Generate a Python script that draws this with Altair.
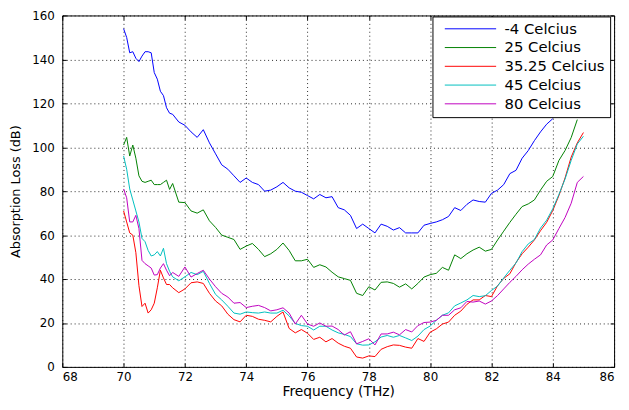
import altair as alt
import pandas as pd

# Frequency grid (THz): fine steps at the start, then 0.2 THz steps
freq_fine = [70.0, 70.1, 70.2, 70.3, 70.4, 70.5, 70.6, 70.7, 70.8, 70.9,
             71.0, 71.1, 71.2, 71.3, 71.4, 71.5, 71.6]
freq_coarse = [71.8,
               72.0, 72.2, 72.4, 72.6, 72.8,
               73.0, 73.2, 73.4, 73.6, 73.8,
               74.0, 74.2, 74.4, 74.6, 74.8,
               75.0, 75.2, 75.4, 75.6, 75.8,
               76.0, 76.2, 76.4, 76.6, 76.8,
               77.0, 77.2, 77.4, 77.6, 77.8,
               78.0, 78.2, 78.4, 78.6, 78.8,
               79.0, 79.2, 79.4, 79.6, 79.8,
               80.0, 80.2, 80.4, 80.6, 80.8,
               81.0, 81.2, 81.4, 81.6, 81.8,
               82.0, 82.2, 82.4, 82.6, 82.8,
               83.0, 83.2, 83.4, 83.6, 83.8,
               84.0, 84.2, 84.4, 84.6, 84.8,
               85.0]
freq = freq_fine + freq_coarse

series_names = ["-4 Celcius", "25 Celcius", "35.25 Celcius", "45 Celcius", "80 Celcius"]
series_colors = ["#0000FF", "#008000", "#FF0000", "#00BFBF", "#BF00BF"]

minus4 = [154, 150, 143, 143.5, 140.5, 139, 141.5, 143.5, 143.5, 143,
          134, 131, 125.5, 123.5, 118, 115.5, 115,
          111.5,
          110, 107, 104.5, 108, 102,
          97, 92, 90, 87, 84,
          86, 84, 83, 80, 80.5,
          82, 84, 81.5, 80, 79.5,
          78, 76.5, 78.5, 77, 77.5,
          72.5, 71.5, 69, 63, 65,
          63, 61, 65, 64, 62.3,
          63.4, 61, 61, 61, 64.5,
          65.3, 66, 67, 68.5, 72.5,
          71.2, 74, 76, 75.3, 75,
          79, 80.5, 83, 88, 89.5,
          95, 98.5, 103, 107, 110.5,
          113, None, None, None, None,
          None]

c25 = [101, 104.5, 96, 101, 95, 87, 84.5, 84, 84.5, 85,
       83, 83, 83, 84, 85, 80.8, 83.5,
       75,
       74.8, 71, 70, 71.5, 66.5,
       63.5, 60, 59, 58, 53.5,
       55, 56.2, 53.5, 50.2, 51.5,
       53.5, 56.4, 53, 48.3, 48.3,
       49, 45.3, 46.5, 45.5, 43.1,
       41, 40.2, 39.4, 33.5, 32.5,
       36.5, 35, 38.5, 38.7, 38,
       36.3, 37.8, 35.5, 38, 40.9,
       42, 42.6, 45.3, 44, 51,
       49.3, 51.5, 53.2, 54.5, 52.7,
       53.5, 57.8, 61.8, 65.8, 69.5,
       73, 74.2, 76, 80.5, 84.5,
       86.7, 94, 98.5, 104.4, 112.6,
       None]

c35 = [71, 66, 61, 60, 52, 37, 27.5, 29, 24.5, 26,
       29, 36, 44, 40.5, 37.5, 37.5, 36,
       33.8,
       35.5, 38.3, 38.7, 38, 33.5,
       30, 27.8, 24, 21.5, 20.5,
       23.5, 23, 21.7, 21.2, 20.5,
       23, 25, 17.5, 15.5, 17,
       15.3, 12.5, 13.5, 11.4, 12.9,
       10.8, 9.4, 8.5, 4.5, 4,
       5, 4.7, 8, 9.2, 10,
       9.8, 9, 8.5, 12.9, 11.6,
       15.8, 17.3, 19.5, 20.4, 23.5,
       25.4, 28.5, 30.5, 30.5, 32.5,
       32, 37, 40.3, 42.4, 47.5,
       51.5, 54.5, 57.8, 62, 65.8,
       71.2, 78, 86, 95.5, 102,
       106.7]

c45 = [96, 90, 81, 76, 71, 66, 58.5, 57, 53, 50.5,
       51, 52.5, 50.5, 54, 47, 43.5, 41,
       39.2,
       41, 43, 42, 43.5, 38,
       33, 30.5, 27.6, 24.5, 24,
       25, 24.7, 24.5, 25, 24.5,
       24.5, 25.8, 23.2, 19.8, 18.8,
       18.5, 16.8, 18.5, 18.5, 16.8,
       15.5, 14.8, 13.8, 10.5, 9.9,
       10, 11.4, 13.6, 14.3, 13.5,
       14.3, 13.2, 12, 14, 17,
       18.6, 21.2, 23.5, 24.6, 27.8,
       29.1, 30.5, 32.5, 32, 32.4,
       34.8, 36.8, 40.5, 44, 47.3,
       52.5, 56, 58, 63.2, 66.8,
       72, 78.5, 85.5, 94, 101.5,
       105]

c80 = [81, 77, 66, 66, 69, 63, 48.5, 47, 46, 45,
       41.8, 42, 45, 47, 44, 41.5, 43,
       41.2,
       45.5, 40.9, 42.5, 44, 40,
       36.5, 33.5, 31.8, 29, 29.3,
       27, 27.6, 28, 27, 25.5,
       26, 26.9, 24.5, 19.5, 23.5,
       19.5, 18.5, 20, 18.5, 18.6,
       17, 14.5, 16, 10.5, 11.6,
       12.8, 10, 15, 15, 15.8,
       14.6, 17, 15.9, 18.8, 20.2,
       20.4, 21.2, 23.5, 23.5, 26,
       26.9, 29.8, 29.5, 30, 28.6,
       30, 32.5, 35.5, 38.5, 41.2,
       44.2, 46.8, 49, 51, 55.5,
       57.8, 63, 68, 74.5, 84,
       86.7]

x_ticks = [68, 70, 72, 74, 76, 78, 80, 82, 84, 86]
y_ticks = [0, 20, 40, 60, 80, 100, 120, 140, 160]

all_series = [minus4, c25, c35, c45, c80]
for s in all_series:
    assert len(s) == len(freq), len(s)

rows = []
for k, (name, vals) in enumerate(zip(series_names, all_series)):
    for f, v in zip(freq, vals):
        if v is not None:
            rows.append({"Frequency": f, "Loss": v, "Series": name, "k": k})
df = pd.DataFrame(rows)

FONT = "DejaVu Sans"
xscale = alt.Scale(domain=[68, 86], nice=False, zero=False)
yscale = alt.Scale(domain=[0, 160], nice=False, zero=True)

main_x_axis = alt.Axis(values=x_ticks, grid=True, ticks=False, tickSize=0, domain=False,
                       labelFont=FONT, labelFontSize=12, labelColor="black", labelPadding=5,
                       title="Frequency (THz)", titleFont=FONT, titleFontSize=14,
                       titleFontWeight="normal", titleColor="black",
                       titleY=25, titleBaseline="middle")
main_y_axis = alt.Axis(values=y_ticks, grid=True, ticks=False, tickSize=0, domain=False,
                       labelFont=FONT, labelFontSize=12, labelColor="black", labelPadding=8,
                       title="Absorption Loss (dB)", titleFont=FONT, titleFontSize=13,
                       titleFontWeight="normal", titleColor="black", titlePadding=9)

lines = alt.Chart(df).mark_line(strokeWidth=1, interpolate="linear").encode(
    x=alt.X("Frequency:Q", scale=xscale, axis=main_x_axis),
    y=alt.Y("Loss:Q", scale=yscale, axis=main_y_axis),
    color=alt.Color("Series:N",
                    scale=alt.Scale(domain=series_names, range=series_colors),
                    sort=series_names,
                    legend=alt.Legend(title=None, orient="none", legendX=375, legendY=1,
                                      symbolType="M-5.2,0H5.2", symbolSize=100,
                                      symbolStrokeWidth=1, symbolFillColor="transparent",
                                      labelFont=FONT,
                                      labelFontSize=15, labelColor="black",
                                      strokeColor="black", fillColor="white",
                                      padding=5, rowPadding=3, symbolOffset=26,
                                      labelOffset=27, cornerRadius=0)),
    detail="k:N",
)


def tick_axis(orient):
    return alt.Axis(values=x_ticks if orient in ("top", "bottom") else y_ticks,
                    orient=orient, offset=-4, tickSize=4, ticks=True, tickColor="black",
                    labels=False, domain=False, grid=False, title=None)


ticks_bl = alt.Chart(df).mark_line(strokeOpacity=0).encode(
    x=alt.X("Frequency:Q", scale=xscale, axis=tick_axis("bottom")),
    y=alt.Y("Loss:Q", scale=yscale, axis=tick_axis("left")),
    detail="k:N",
)
ticks_tr = alt.Chart(df).mark_line(strokeOpacity=0).encode(
    x=alt.X("Frequency:Q", scale=xscale, axis=tick_axis("top")),
    y=alt.Y("Loss:Q", scale=yscale, axis=tick_axis("right")),
    detail="k:N",
)

chart = alt.layer(ticks_bl, ticks_tr, lines).resolve_axis(
    x="independent", y="independent"
).properties(
    width=559, height=356,
    autosize=alt.AutoSizeParams(type="none"),
    padding={"left": 55, "top": 5, "right": 7, "bottom": 33},
    background="white",
).configure_view(
    stroke="black", strokeWidth=1
).configure_axis(
    gridColor="black", gridDash=[1, 3], gridOpacity=0.85, gridWidth=1
)

chart.save("out.html", embed_options={"renderer": "svg", "actions": False})
